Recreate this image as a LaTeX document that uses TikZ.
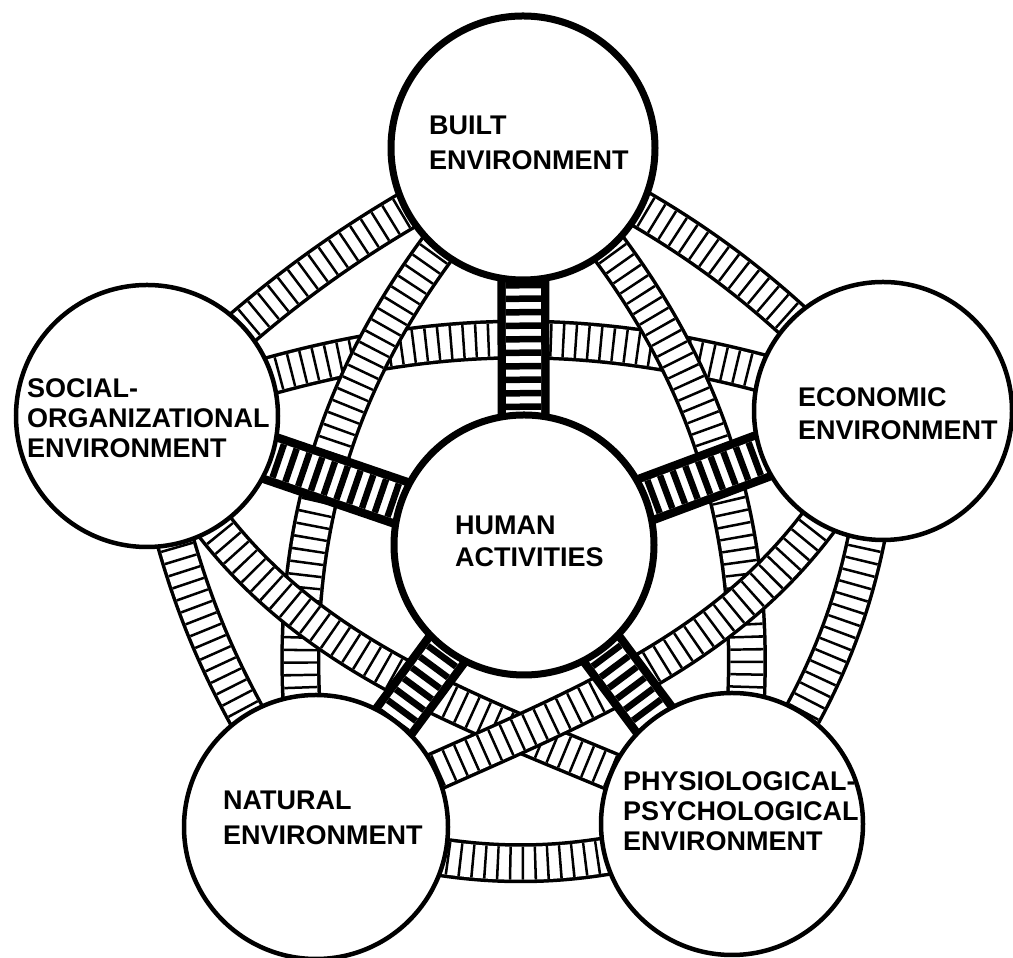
\documentclass[tikz,border=0pt]{standalone}
\usepackage{fontspec}
\setmainfont{Liberation Sans}

\pgfdeclarelayer{bands}
\pgfsetlayers{bands,main}

\newcommand{\envfont}{\bfseries\fontsize{27}{30}\selectfont}

\tikzset{
  env/.style={circle, draw, fill=white, line width=4.5pt, inner sep=0pt, outer sep=0pt},
  envtext/.style={font=\envfont, align=left, anchor=west, inner sep=0pt},
  link/.style={draw=black, line width=40pt,
    postaction={draw=white, line width=33pt},
    postaction={draw=black, line width=33pt, dash pattern=on 2.5pt off 10pt}},
  spoke/.style={draw=black, line width=52pt,
    postaction={draw=white, line width=35pt},
    postaction={draw=black, line width=35pt, dash pattern=on 6.5pt off 7pt}},
}

\begin{document}
\begin{tikzpicture}[x=1pt,y=1pt]
  \useasboundingbox (0,0) rectangle (1013,958);

  \node[env, minimum size=264pt, line width=7pt] (built) at (523,810) {};
  \node[env, minimum size=262pt] (social) at (147,542) {};
  \node[env, minimum size=258pt] (econ) at (883,547) {};
  \node[env, minimum size=264pt] (natural) at (316,131) {};
  \node[env, minimum size=262pt] (physio) at (732,134) {};
  \node[env, minimum size=260pt, line width=7pt] (human) at (524,413) {};

  \node[envtext] (builttext) at (429,815.5) {BUILT\\[5pt]ENVIRONMENT};
  \node[envtext] (socialtext) at (27,539.5) {SOCIAL-\\ORGANIZATIONAL\\ENVIRONMENT};
  \node[envtext] (econtext) at (798,544) {ECONOMIC\\[3pt]ENVIRONMENT};
  \node[envtext] (naturaltext) at (223,140) {NATURAL\\[5pt]ENVIRONMENT};
  \node[envtext] (physiotext) at (623,146.5) {PHYSIOLOGICAL-\\PSYCHOLOGICAL\\ENVIRONMENT};
  \node[envtext] (humantext) at (455,416.5) {HUMAN\\[2pt]ACTIVITIES};

  \begin{pgfonlayer}{bands}
    % outer ring
    \draw[link] (built.center) to[bend left=11] (econ.center);
    \draw[link] (econ.center) to[bend left=16] (physio.center);
    \draw[link] (physio.center) to[bend left=18] (natural.center);
    \draw[link] (natural.center) to[bend left=12] (social.center);
    \draw[link] (social.center) to[bend left=9] (built.center);
    % chords
    \draw[link] (social.center) to[bend left=20] (econ.center);
    \draw[link] (built.center) to[bend right=27] (natural.center);
    \draw[link] (built.center) to[bend left=27] (physio.center);
    \draw[link] (social.center) to[out=-30, in=190, relative] (physio.center);
    \draw[link] (econ.center) to[out=30, in=170, relative] (natural.center);
    % spokes
    \foreach \e in {built,social,econ,natural,physio}
      \draw[spoke] (human.center) -- (\e.center);
  \end{pgfonlayer}
\end{tikzpicture}
\end{document}
